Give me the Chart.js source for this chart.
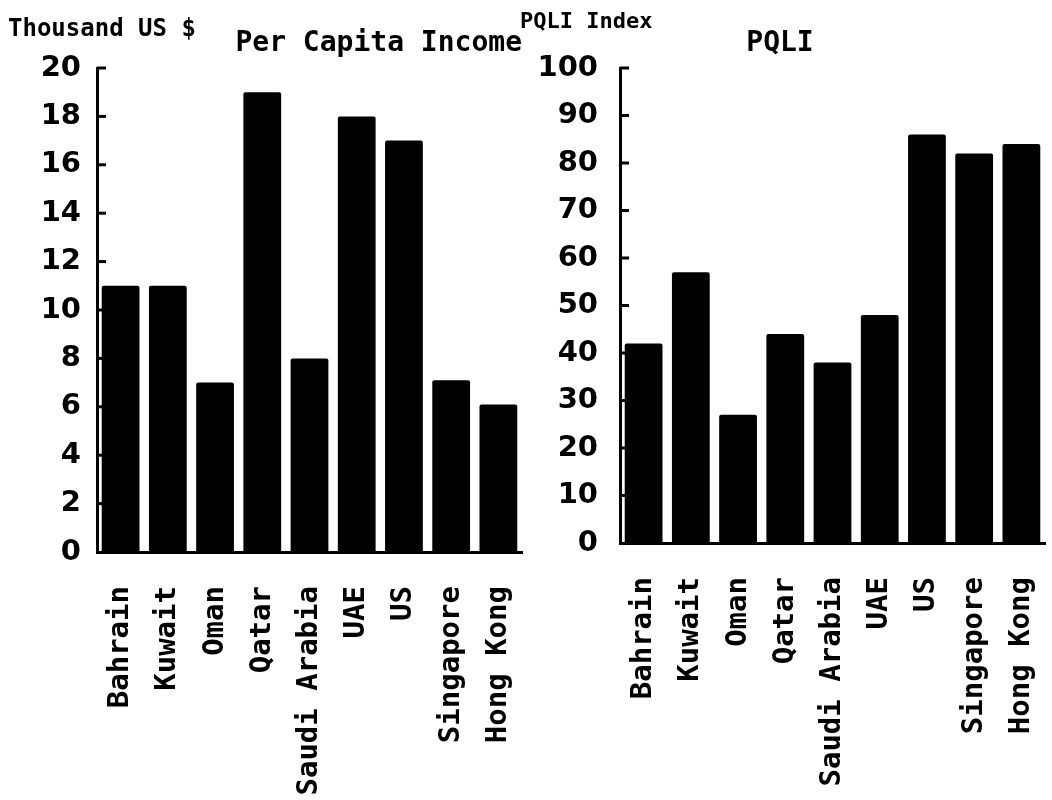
<!DOCTYPE html>
<html lang="es">
<head>
<meta charset="utf-8">
<title>Per Capita Income / PQLI</title>
<script src="https://cdn.jsdelivr.net/npm/chart.js@4/dist/chart.umd.min.js"></script>
<style>
    html, body { margin: 0; padding: 0; background: #fff; }
    #lienzo { position: relative; width: 1052px; height: 800px; }
    .panel { position: absolute; top: 0; height: 800px; }
    #panel_ingreso { left: 0; width: 530px; }
    #panel_pqli { left: 515px; width: 537px; }
</style>
</head>
<body>
<div id="lienzo">
    <div class="panel" id="panel_ingreso"><canvas id="grafica_ingreso"></canvas></div>
    <div class="panel" id="panel_pqli"><canvas id="grafica_pqli"></canvas></div>
</div>
<script>
// Datos
const paises = ["Bahrain", "Kuwait", "Oman", "Qatar", "Saudi Arabia", "UAE", "US", "Singapore", "Hong Kong"];
const ingresoPerCapita = [11, 11, 7, 19, 8, 18, 17, 7.1, 6.1];   // miles de US $
const indicePqli = [42, 57, 27, 44, 38, 48, 86, 82, 84];

const ticksIngreso = [0, 2, 4, 6, 8, 10, 12, 14, 16, 18, 20];
const ticksPqli = [0, 10, 20, 30, 40, 50, 60, 70, 80, 90, 100];

const FUENTE_MONO = "'DejaVu Sans Mono', 'Liberation Mono', monospace";
const FUENTE_NUM = "'DejaVu Sans', sans-serif";

/**
 * Dibuja las marcas del eje Y hacia dentro del area de la grafica
 */
const marcasInternas = {
    id: "marcasInternas",
    afterDraw(chart) {
        const ejeY = chart.scales.y;
        const ctx = chart.ctx;
        ctx.save();
        ctx.strokeStyle = "#000";
        ctx.lineWidth = 3;
        ejeY.ticks.forEach(t => {
            if (t.value === 0) return;
            const py = ejeY.getPixelForValue(t.value);
            ctx.beginPath();
            ctx.moveTo(ejeY.right, py);
            ctx.lineTo(ejeY.right + 9, py);
            ctx.stroke();
        });
        ctx.restore();
    }
};

/**
 * Texto de unidades arriba del eje Y
 */
const etiquetaUnidad = {
    id: "etiquetaUnidad",
    afterDraw(chart, args, opts) {
        const ctx = chart.ctx;
        ctx.save();
        ctx.fillStyle = "#000";
        ctx.font = "bold " + opts.tamano + "px " + FUENTE_MONO;
        ctx.textBaseline = "middle";
        ctx.textAlign = "left";
        ctx.fillText(opts.texto, opts.x, opts.y);
        ctx.restore();
    }
};

/**
 * Crea una grafica de barras con el estilo del original
 */
function crearGrafica(idCanvas, cfg) {
    const ctx = document.getElementById(idCanvas);
    return new Chart(ctx.getContext("2d"), {
        type: "bar",
        data: {
            labels: paises,
            datasets: [{
                data: cfg.valores,
                backgroundColor: "#000",
                borderWidth: 0,
                borderRadius: 2,
                barPercentage: 0.8,
                categoryPercentage: 1
            }]
        },
        plugins: [marcasInternas, etiquetaUnidad],
        options: {
            responsive: true,
            maintainAspectRatio: false,
            animation: false,
            layout: { padding: { top: 0, right: cfg.margenDerecho, bottom: 0, left: 0 } },
            scales: {
                x: {
                    grid: { display: false },
                    border: { display: true, color: "#000", width: 3 },
                    ticks: {
                        color: "#000",
                        font: { family: FUENTE_MONO, size: 29, weight: "bold" },
                        minRotation: 90,
                        maxRotation: 90,
                        autoSkip: false,
                        padding: 26
                    },
                    afterFit: s => {
                        s.height = cfg.altoEjeX;
                        s.paddingLeft = 0;
                        s.paddingRight = 0;
                    }
                },
                y: {
                    min: cfg.ticks[0],
                    max: cfg.ticks[cfg.ticks.length - 1],
                    grid: { display: false },
                    border: { display: true, color: "#000", width: 3 },
                    ticks: {
                        color: "#000",
                        font: { family: FUENTE_NUM, size: 29, weight: "bold" },
                        padding: cfg.separacionTicks
                    },
                    afterBuildTicks: s => {
                        s.ticks = cfg.ticks.map(v => ({ value: v }));
                    },
                    afterFit: s => {
                        s.width = cfg.anchoEjeY;
                        s.paddingTop = 0;
                        s.paddingBottom = 0;
                    }
                }
            },
            plugins: {
                legend: { display: false },
                tooltip: { enabled: false },
                title: {
                    display: true,
                    text: cfg.titulo,
                    align: cfg.alineacionTitulo,
                    color: "#000",
                    font: { family: FUENTE_MONO, size: 28, weight: "bold", lineHeight: 1 },
                    padding: { top: 30, bottom: 10 }
                },
                etiquetaUnidad: cfg.unidad
            }
        }
    });
}

document.addEventListener("DOMContentLoaded", () => {
    crearGrafica("grafica_ingreso", {
        valores: ingresoPerCapita,
        ticks: ticksIngreso,
        titulo: "Per Capita Income",
        alineacionTitulo: "end",
        anchoEjeY: 97,
        altoEjeX: 248,
        margenDerecho: 8,
        separacionTicks: 8,
        unidad: { texto: "Thousand US $", x: 8, y: 30, tamano: 24 }
    });

    crearGrafica("grafica_pqli", {
        valores: indicePqli,
        ticks: ticksPqli,
        titulo: "PQLI",
        alineacionTitulo: "center",
        anchoEjeY: 105,
        altoEjeX: 257,
        margenDerecho: 7,
        separacionTicks: 14,
        unidad: { texto: "PQLI Index", x: 5, y: 22, tamano: 22 }
    });
});
</script>
</body>
</html>
